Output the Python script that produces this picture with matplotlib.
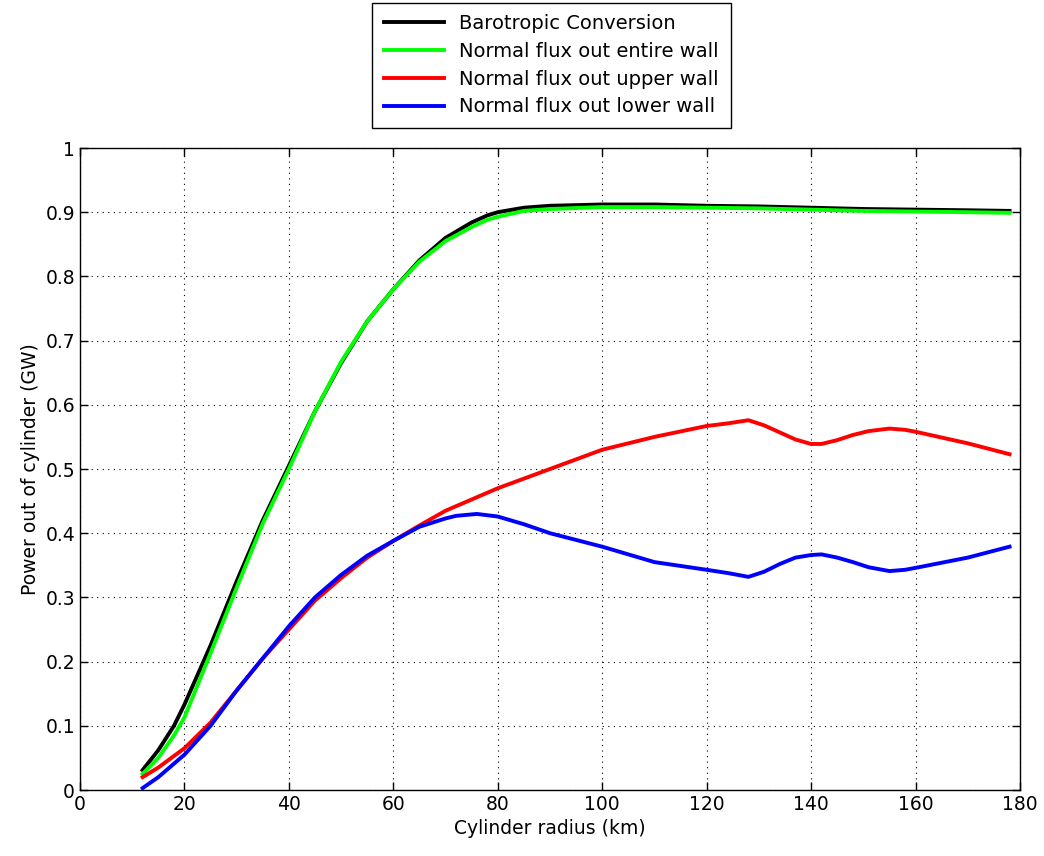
import matplotlib.pyplot as plt

# radius (km)
r_baro = [12, 15, 18, 20, 25, 30, 35, 40, 45, 50, 55, 60, 65, 70, 75, 78, 80, 85, 90,
          100, 110, 120, 130, 140, 150, 160, 170, 178]
baro = [0.031, 0.062, 0.100, 0.133, 0.225, 0.325, 0.420, 0.505, 0.590, 0.665, 0.730,
        0.780, 0.825, 0.860, 0.884, 0.895, 0.900, 0.907, 0.910, 0.912, 0.912, 0.910,
        0.909, 0.907, 0.905, 0.904, 0.903, 0.902]
entire = [0.025, 0.050, 0.085, 0.113, 0.213, 0.315, 0.415, 0.500, 0.590, 0.667, 0.730,
          0.780, 0.823, 0.855, 0.877, 0.888, 0.893, 0.902, 0.905, 0.908, 0.908, 0.907,
          0.906, 0.904, 0.902, 0.901, 0.900, 0.899]

r_wall = [12, 15, 20, 25, 30, 35, 40, 45, 50, 55, 60, 65, 70, 72, 76, 80, 85, 90, 100,
          110, 120, 124, 128, 131, 134, 137, 140, 142, 145, 148, 151, 155, 158, 160,
          170, 178]
upper = [0.020, 0.035, 0.065, 0.105, 0.155, 0.205, 0.250, 0.295, 0.330, 0.362, 0.388,
         0.412, 0.435, 0.442, 0.456, 0.470, 0.485, 0.500, 0.530, 0.550, 0.567, 0.571,
         0.576, 0.568, 0.557, 0.546, 0.539, 0.539, 0.545, 0.553, 0.559, 0.563, 0.561,
         0.558, 0.540, 0.523]
lower = [0.003, 0.020, 0.055, 0.100, 0.155, 0.205, 0.255, 0.300, 0.335, 0.365, 0.388,
         0.410, 0.423, 0.427, 0.430, 0.426, 0.414, 0.400, 0.379, 0.355, 0.343, 0.338,
         0.332, 0.340, 0.352, 0.362, 0.366, 0.367, 0.362, 0.355, 0.347, 0.341, 0.343,
         0.346, 0.362, 0.379]

plt.rcParams['font.family'] = ['DejaVu Sans']

fig = plt.figure(figsize=(10.44, 8.56), dpi=100)
ax = fig.add_axes([0.0766, 0.0771, 0.9004, 0.7500])

lw = 2.8
ax.plot(r_baro, baro, color='black', lw=lw, label='Barotropic Conversion')
ax.plot(r_baro, entire, color='#00ff00', lw=lw, label='Normal flux out entire wall')
ax.plot(r_wall, upper, color='red', lw=lw, label='Normal flux out upper wall')
ax.plot(r_wall, lower, color='blue', lw=lw, label='Normal flux out lower wall')

ax.set_xlim(0, 180)
ax.set_ylim(0, 1)
ax.set_xticks(range(0, 181, 20))
ax.set_yticks([i / 10 for i in range(11)])
ax.set_yticklabels(['0', '0.1', '0.2', '0.3', '0.4', '0.5', '0.6', '0.7', '0.8', '0.9', '1'])
ax.tick_params(direction='in', length=6, width=1, labelsize=13.5, top=True, right=True)
ax.grid(True, linestyle=(0, (1, 4)), color='black', lw=0.8)
for s in ax.spines.values():
    s.set_linewidth(1)

ax.set_xlabel('Cylinder radius (km)', fontsize=13.5)
ax.set_ylabel('Power out of cylinder (GW)', fontsize=13.5)

leg = fig.legend(loc='upper center', bbox_to_anchor=(0.528, 0.997), fontsize=14,
                 fancybox=False, edgecolor='black', framealpha=1, handlelength=3.1,
                 borderpad=0.6, labelspacing=0.45, borderaxespad=0)
leg.get_frame().set_linewidth(1)

fig.savefig('out.png', dpi=100)
